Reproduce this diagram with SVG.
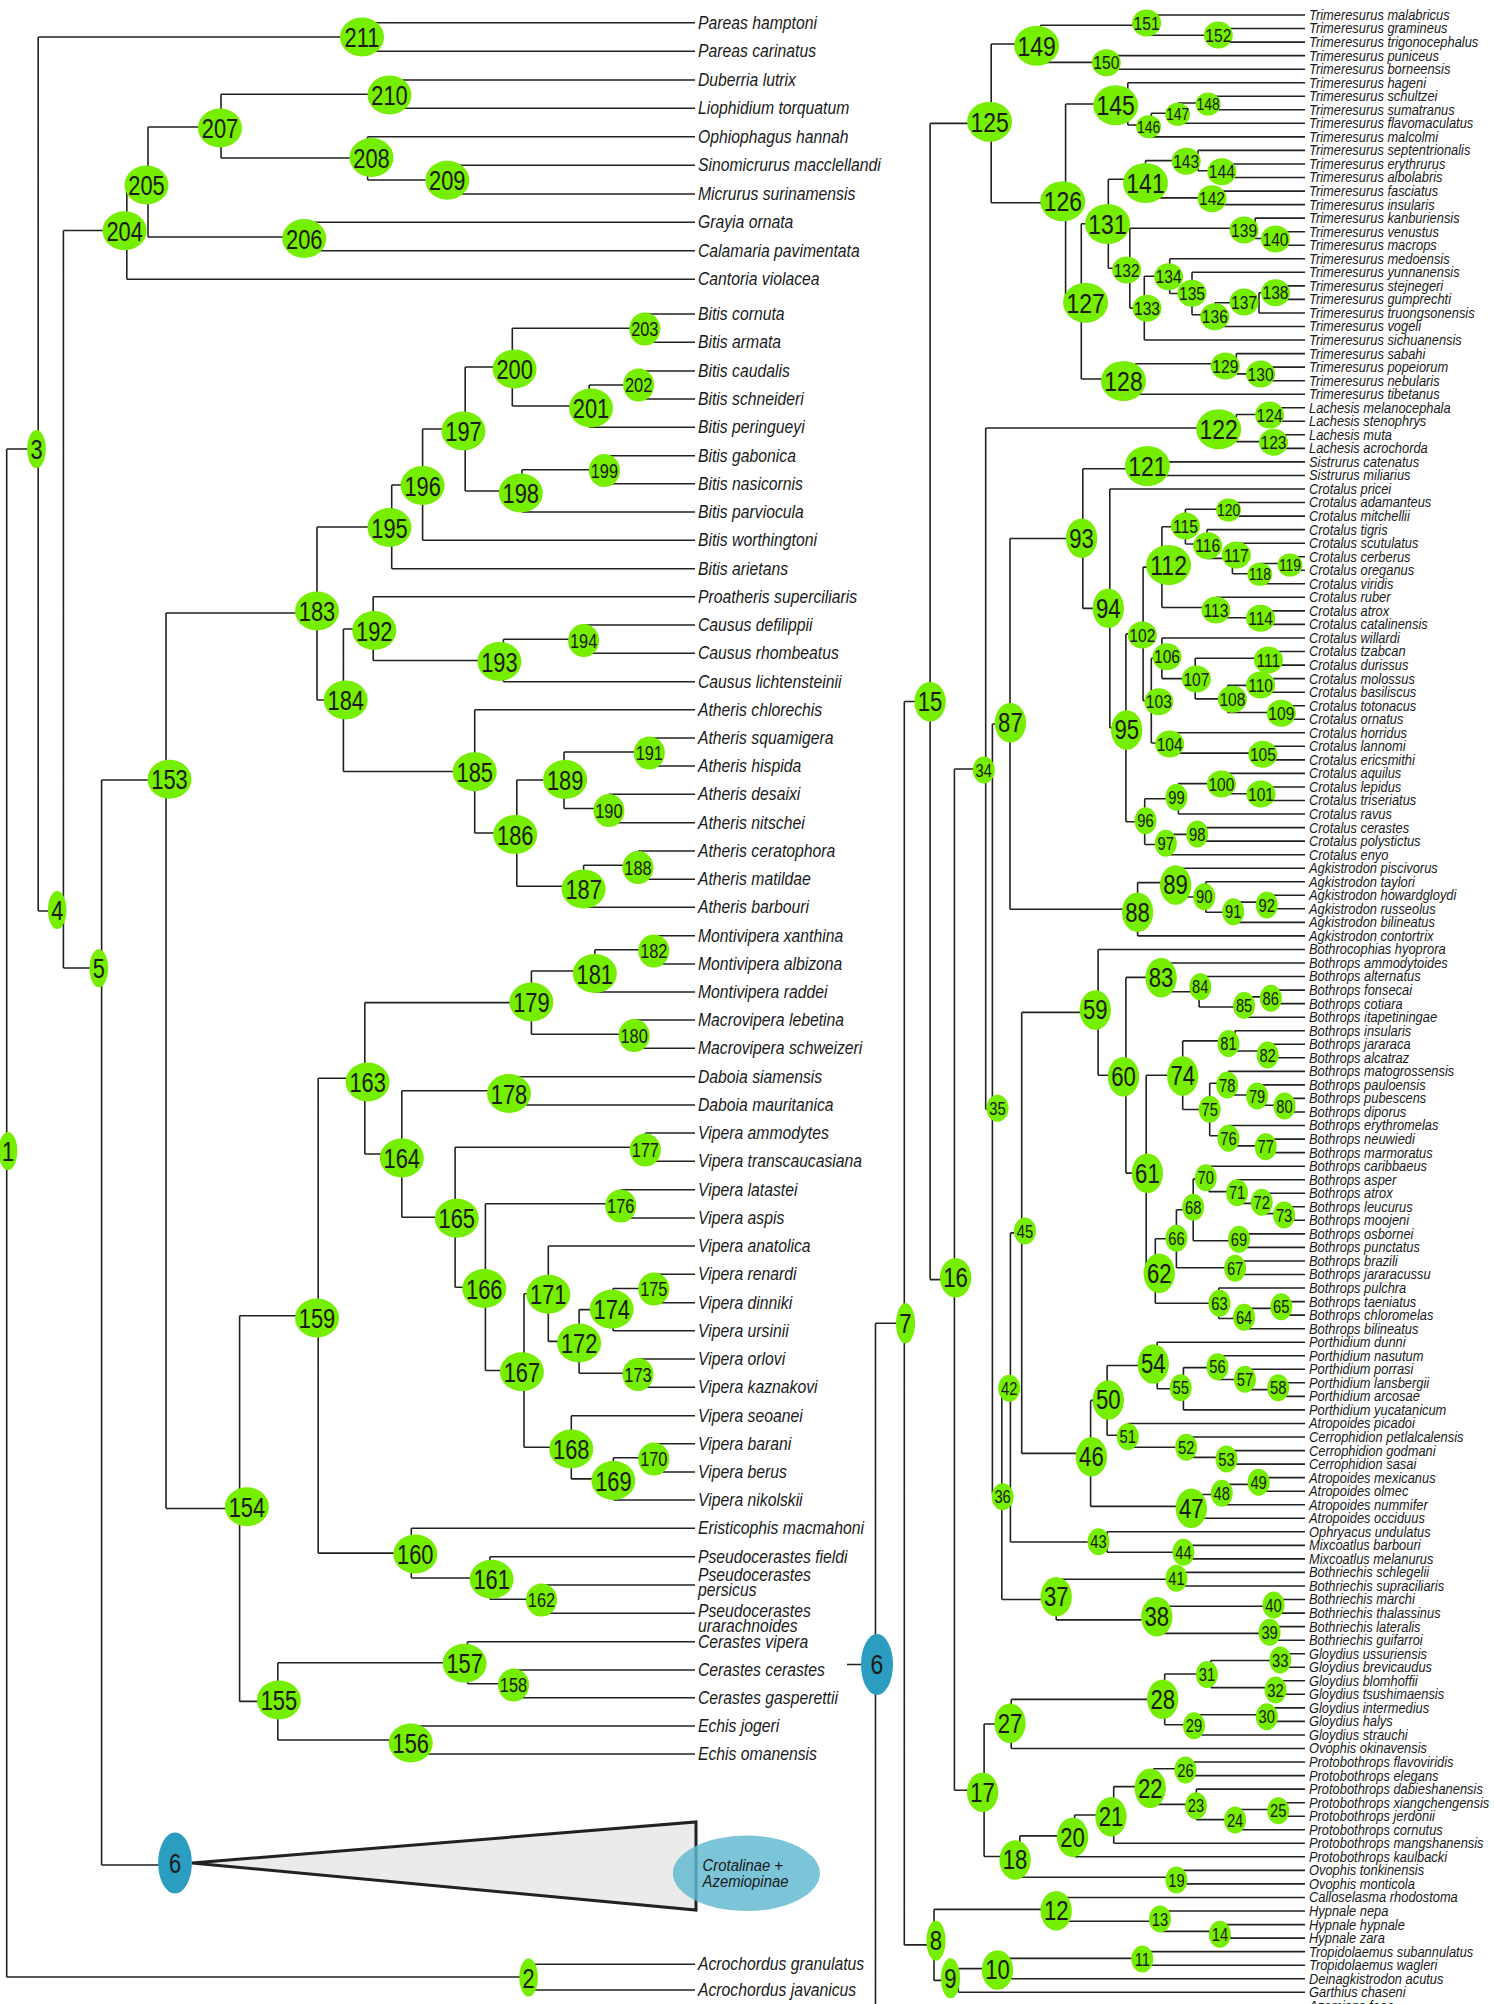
<svg xmlns="http://www.w3.org/2000/svg" width="1494" height="2004" viewBox="0 0 1494 2004">
<style>
.br{fill:none;stroke:#222;stroke-width:1.6}
.nd text{font-family:"Liberation Sans",Arial,sans-serif;text-anchor:middle;dominant-baseline:central;fill:#1a1a1a}
.LB text,.RB text{font-size:28px}
.LS text{font-size:21px}
.LN text{font-size:28px}
.RM text{font-size:19px}
.RS text{font-size:17px}
.R2B text,.R1 text{font-size:27px}
.R2S text{font-size:18px}
.lab{font-family:"Liberation Sans",Arial,sans-serif;font-style:italic;fill:#1a1a1a}
</style>
<defs>
<ellipse id="eLB" rx="28.2" ry="19.5" fill="#76EE00"/>
<ellipse id="eLS" rx="19.9" ry="16.5" fill="#76EE00"/>
<ellipse id="eLN" rx="11.9" ry="19" fill="#76EE00"/>
<ellipse id="eRB" rx="27.4" ry="20" fill="#76EE00"/>
<ellipse id="eRM" rx="17.7" ry="13.5" fill="#76EE00"/>
<ellipse id="eRS" rx="15.2" ry="11.5" fill="#76EE00"/>
<ellipse id="eR2B" rx="19.1" ry="19.7" fill="#76EE00"/>
<ellipse id="eR2S" rx="13.4" ry="13.5" fill="#76EE00"/>
<ellipse id="eR1" rx="11.6" ry="20" fill="#76EE00"/>
</defs>
<rect width="1494" height="2004" fill="#fff"/>
<g id="connectors" class="br">
<path d="M362,22.7V51.3M362,22.7H695M362,51.3H695M389.5,80V108.3M389.5,80H695M389.5,108.3H695M447.3,165.3V194M447.3,165.3H695M447.3,194H695M367.6,136.7V180M367.6,136.7H695M367.6,180H447.3M221,94.3V158M221,94.3H389.5M221,158H367.6M304.2,222.3V250.7M304.2,222.3H695M304.2,250.7H695M148,127V237M148,127H221M148,237H304.2M126.8,183V279.3M126.8,183H148M126.8,279.3H695M645.3,314V342.3M645.3,314H695M645.3,342.3H695M638.6,371V399M638.6,371H695M638.6,399H695M589.2,385V427.3M589.2,385H638.6M589.2,427.3H695M512.3,328.2V406M512.3,328.2H645.3M512.3,406H589.2M604.4,455.7V483.7M604.4,455.7H695M604.4,483.7H695M521.9,469.7V512M521.9,469.7H604.4M521.9,512H695M465.2,367V491M465.2,367H512.3M465.2,491H521.9M422.6,429V540.3M422.6,429H465.2M422.6,540.3H695M391.7,485V568.7M391.7,485H422.6M391.7,568.7H695M583.6,625V653.3M583.6,625H695M583.6,653.3H695M503.4,639.2V681.7M503.4,639.2H583.6M503.4,681.7H695M373.2,596.7V660.5M373.2,596.7H695M373.2,660.5H503.4M649.3,738V766M649.3,738H695M649.3,766H695M608.9,794.3V822.7M608.9,794.3H695M608.9,822.7H695M564,752V808.5M564,752H649.3M564,808.5H608.9M638,851V879.3M638,851H695M638,879.3H695M583.6,865.2V907.3M583.6,865.2H638M583.6,907.3H695M516.8,780V886.3M516.8,780H564M516.8,886.3H583.6M474.7,709.7V833M474.7,709.7H695M474.7,833H516.8M343.4,629V771.5M343.4,629H373.2M343.4,771.5H474.7M317,527V700M317,527H391.7M317,700H343.4M653.8,935.7V964M653.8,935.7H695M653.8,964H695M594.8,949.8V992M594.8,949.8H653.8M594.8,992H695M634.1,1020V1048.3M634.1,1020H695M634.1,1048.3H695M531.4,971V1034.2M531.4,971H594.8M531.4,1034.2H634.1M509,1076.7V1105M509,1076.7H695M509,1105H695M645.3,1133V1161.3M645.3,1133H695M645.3,1161.3H695M620.7,1189.7V1218M620.7,1189.7H695M620.7,1218H695M653.8,1274.3V1302.7M653.8,1274.3H695M653.8,1302.7H695M613,1288.5V1330.7M613,1288.5H653.8M613,1330.7H695M638,1359V1387.3M638,1359H695M638,1387.3H695M579.1,1309.6V1373.2M579.1,1309.6H613M579.1,1373.2H638M548.3,1246V1341.4M548.3,1246H695M548.3,1341.4H579.1M653.8,1443.7V1472M653.8,1443.7H695M653.8,1472H695M613.4,1457.8V1500M613.4,1457.8H653.8M613.4,1500H695M571.3,1415.7V1478.9M571.3,1415.7H695M571.3,1478.9H613.4M524,1293.7V1447.3M524,1293.7H548.3M524,1447.3H571.3M485.4,1203.8V1370.5M485.4,1203.8H620.7M485.4,1370.5H524M455.1,1147.2V1287.2M455.1,1147.2H645.3M455.1,1287.2H485.4M401.8,1090.8V1217.2M401.8,1090.8H509M401.8,1217.2H455.1M364.8,1002.6V1154M364.8,1002.6H531.4M364.8,1154H401.8M541.5,1585V1613.3M541.5,1585H695M541.5,1613.3H695M489.9,1556.7V1599.2M489.9,1556.7H695M489.9,1599.2H541.5M411.3,1528.3V1578M411.3,1528.3H695M411.3,1578H489.9M318.2,1078.3V1553.1M318.2,1078.3H364.8M318.2,1553.1H411.3M513.5,1670V1697.7M513.5,1670H695M513.5,1697.7H695M467.5,1641.7V1683.8M467.5,1641.7H695M467.5,1683.8H513.5M410.8,1726V1754M410.8,1726H695M410.8,1754H695M277.8,1662.8V1740M277.8,1662.8H467.5M277.8,1740H410.8M239.6,1315.7V1701.4M239.6,1315.7H318.2M239.6,1701.4H277.8M166,613V1508.5M166,613H317M166,1508.5H239.6M101.6,780V1865M101.6,780H166M101.6,1865H175M63.4,230.5V968M63.4,230.5H126.8M63.4,968H101.6M38.2,37V911M38.2,37H362M38.2,911H63.4M528.6,1964.3V1990M528.6,1964.3H695M528.6,1990H695M6.7,449V1977M6.7,449H38.2M6.7,1977H528.6"/>
<path d="M1218.3,28.5V42.1M1218.3,28.5H1305M1218.3,42.1H1305M1146.2,15V35.3M1146.2,15H1305M1146.2,35.3H1218.3M1106.3,55.6V69.2M1106.3,55.6H1305M1106.3,69.2H1305M1040.5,25.2V62.4M1040.5,25.2H1146.2M1040.5,62.4H1106.3M1208.1,96.3V109.8M1208.1,96.3H1305M1208.1,109.8H1305M1177.6,103V123.3M1177.6,103H1208.1M1177.6,123.3H1305M1151.3,113.2V136.9M1151.3,113.2H1177.6M1151.3,136.9H1305M1127.8,82.7V125M1127.8,82.7H1305M1127.8,125H1151.3M1221.8,164V177.5M1221.8,164H1305M1221.8,177.5H1305M1197.9,150.4V170.8M1197.9,150.4H1305M1197.9,170.8H1221.8M1212,191.1V204.6M1212,191.1H1305M1212,204.6H1305M1145.5,160.6V197.9M1145.5,160.6H1197.9M1145.5,197.9H1212M1275.5,231.7V245.2M1275.5,231.7H1305M1275.5,245.2H1305M1255.1,218.1V238.5M1255.1,218.1H1305M1255.1,238.5H1275.5M1275.5,285.9V299.4M1275.5,285.9H1305M1275.5,299.4H1305M1259,292.7V313M1259,292.7H1275.5M1259,313H1305M1214.8,302.8V326.5M1214.8,302.8H1259M1214.8,326.5H1305M1192,272.3V314.7M1192,272.3H1305M1192,314.7H1214.8M1169.7,258.8V293.5M1169.7,258.8H1305M1169.7,293.5H1192M1144.3,276.2V340M1144.3,276.2H1169.7M1144.3,340H1305M1129.8,228.3V308.1M1129.8,228.3H1255.1M1129.8,308.1H1144.3M1108.3,179.2V268.2M1108.3,179.2H1145.5M1108.3,268.2H1129.8M1260.6,367.1V380.7M1260.6,367.1H1305M1260.6,380.7H1305M1236.3,353.6V373.9M1236.3,353.6H1305M1236.3,373.9H1260.6M1135.3,363.8V394.2M1135.3,363.8H1236.3M1135.3,394.2H1305M1081.3,223.7V379M1081.3,223.7H1108.3M1081.3,379H1135.3M1065.6,104V301.4M1065.6,104H1127.8M1065.6,301.4H1081.3M991.2,44V202.7M991.2,44H1040.5M991.2,202.7H1065.6M1269.6,407.7V421.3M1269.6,407.7H1305M1269.6,421.3H1305M1273.5,434.8V448.4M1273.5,434.8H1305M1273.5,448.4H1305M1236.3,414.5V441.6M1236.3,414.5H1269.6M1236.3,441.6H1273.5M1147.4,461.9V475.5M1147.4,461.9H1305M1147.4,475.5H1305M1228.5,502.5V516.1M1228.5,502.5H1305M1228.5,516.1H1305M1290,556.7V570.3M1290,556.7H1305M1290,570.3H1305M1259.8,563.5V583.8M1259.8,563.5H1290M1259.8,583.8H1305M1232.4,543.2V573.7M1232.4,543.2H1305M1232.4,573.7H1259.8M1207,529.6V558.4M1207,529.6H1305M1207,558.4H1232.4M1185.4,509.3V544M1185.4,509.3H1228.5M1185.4,544H1207M1260.6,610.9V624.4M1260.6,610.9H1305M1260.6,624.4H1305M1215.9,597.3V617.7M1215.9,597.3H1305M1215.9,617.7H1260.6M1161.9,526.7V607.5M1161.9,526.7H1185.4M1161.9,607.5H1215.9M1268.4,651.5V665.1M1268.4,651.5H1305M1268.4,665.1H1305M1260.6,678.6V692.2M1260.6,678.6H1305M1260.6,692.2H1305M1281.3,705.7V719.2M1281.3,705.7H1305M1281.3,719.2H1305M1227.7,685.4V712.5M1227.7,685.4H1260.6M1227.7,712.5H1281.3M1195.2,658.3V698.9M1195.2,658.3H1268.4M1195.2,698.9H1227.7M1161.9,638V678.6M1161.9,638H1305M1161.9,678.6H1195.2M1262.9,746.3V759.9M1262.9,746.3H1305M1262.9,759.9H1305M1170,732.8V753.1M1170,732.8H1305M1170,753.1H1262.9M1151.3,658.3V743M1151.3,658.3H1161.9M1151.3,743H1170M1143.1,567.1V700.7M1143.1,567.1H1161.9M1143.1,700.7H1151.3M1261,787V800.5M1261,787H1305M1261,800.5H1305M1221.4,773.4V793.8M1221.4,773.4H1305M1221.4,793.8H1261M1178.4,783.6V814M1178.4,783.6H1221.4M1178.4,814H1305M1197.2,827.6V841.1M1197.2,827.6H1305M1197.2,841.1H1305M1165.8,834.4V854.7M1165.8,834.4H1197.2M1165.8,854.7H1305M1144.7,798.8V844.5M1144.7,798.8H1178.4M1144.7,844.5H1165.8M1125.9,633.9V821.7M1125.9,633.9H1143.1M1125.9,821.7H1144.7M1109.8,489V727.8M1109.8,489H1305M1109.8,727.8H1125.9M1082.8,468.7V608.4M1082.8,468.7H1147.4M1082.8,608.4H1109.8M1266.8,895.3V908.8M1266.8,895.3H1305M1266.8,908.8H1305M1238,902.1V922.4M1238,902.1H1266.8M1238,922.4H1305M1205.8,881.8V912.2M1205.8,881.8H1305M1205.8,912.2H1238M1175.6,868.2V897M1175.6,868.2H1305M1175.6,897H1205.8M1137.6,882.6V935.9M1137.6,882.6H1175.6M1137.6,935.9H1305M1010,538.5V909.3M1010,538.5H1082.8M1010,909.3H1137.6M1270.8,990.1V1003.6M1270.8,990.1H1305M1270.8,1003.6H1305M1244.1,996.9V1017.2M1244.1,996.9H1270.8M1244.1,1017.2H1305M1199.1,976.5V1007M1199.1,976.5H1305M1199.1,1007H1244.1M1161.1,963V991.8M1161.1,963H1305M1161.1,991.8H1199.1M1267.6,1044.3V1057.8M1267.6,1044.3H1305M1267.6,1057.8H1305M1235,1030.7V1051M1235,1030.7H1305M1235,1051H1267.6M1284.5,1098.4V1112M1284.5,1098.4H1305M1284.5,1112H1305M1257.1,1084.9V1105.2M1257.1,1084.9H1305M1257.1,1105.2H1284.5M1228,1071.4V1095M1228,1071.4H1305M1228,1095H1257.1M1265.7,1139.1V1152.6M1265.7,1139.1H1305M1265.7,1152.6H1305M1228.5,1125.5V1145.9M1228.5,1125.5H1305M1228.5,1145.9H1265.7M1209.7,1083.2V1135.7M1209.7,1083.2H1228M1209.7,1135.7H1228.5M1182.7,1040.9V1109.5M1182.7,1040.9H1235M1182.7,1109.5H1209.7M1284.1,1206.8V1220.3M1284.1,1206.8H1305M1284.1,1220.3H1305M1262,1193.2V1213.6M1262,1193.2H1305M1262,1213.6H1284.1M1237.1,1179.7V1203.4M1237.1,1179.7H1305M1237.1,1203.4H1262M1208.9,1166.2V1191.6M1208.9,1166.2H1305M1208.9,1191.6H1237.1M1239,1233.9V1247.4M1239,1233.9H1305M1239,1247.4H1305M1193.2,1178.9V1240.7M1193.2,1178.9H1208.9M1193.2,1240.7H1239M1235.1,1261V1274.5M1235.1,1261H1305M1235.1,1274.5H1305M1176.4,1209.8V1267.8M1176.4,1209.8H1193.2M1176.4,1267.8H1235.1M1281.3,1301.6V1315.1M1281.3,1301.6H1305M1281.3,1315.1H1305M1244.1,1308.4V1328.7M1244.1,1308.4H1281.3M1244.1,1328.7H1305M1218.7,1288V1318.5M1218.7,1288H1305M1218.7,1318.5H1244.1M1155.3,1238.8V1303.3M1155.3,1238.8H1176.4M1155.3,1303.3H1218.7M1146.2,1075.2V1271M1146.2,1075.2H1182.7M1146.2,1271H1155.3M1125.9,977.4V1173.1M1125.9,977.4H1161.1M1125.9,1173.1H1146.2M1098.1,949.5V1075.3M1098.1,949.5H1305M1098.1,1075.3H1125.9M1278.2,1382.8V1396.4M1278.2,1382.8H1305M1278.2,1396.4H1305M1244.9,1369.3V1389.6M1244.9,1369.3H1305M1244.9,1389.6H1278.2M1217.5,1355.8V1379.5M1217.5,1355.8H1305M1217.5,1379.5H1244.9M1183.4,1367.6V1409.9M1183.4,1367.6H1217.5M1183.4,1409.9H1305M1157.2,1342.2V1388.8M1157.2,1342.2H1305M1157.2,1388.8H1183.4M1226.5,1450.6V1464.1M1226.5,1450.6H1305M1226.5,1464.1H1305M1190,1437V1457.4M1190,1437H1305M1190,1457.4H1226.5M1127.8,1423.5V1447.2M1127.8,1423.5H1305M1127.8,1447.2H1190M1107.1,1365.5V1435.3M1107.1,1365.5H1157.2M1107.1,1435.3H1127.8M1258.6,1477.6V1491.2M1258.6,1477.6H1305M1258.6,1491.2H1305M1221.8,1484.4V1504.7M1221.8,1484.4H1258.6M1221.8,1504.7H1305M1191.3,1494.5V1518.3M1191.3,1494.5H1221.8M1191.3,1518.3H1305M1090.6,1400.4V1506.4M1090.6,1400.4H1107.1M1090.6,1506.4H1191.3M1021.7,1012.4V1453.4M1021.7,1012.4H1098.1M1021.7,1453.4H1090.6M1183.4,1545.4V1558.9M1183.4,1545.4H1305M1183.4,1558.9H1305M1107,1531.8V1552.2M1107,1531.8H1305M1107,1552.2H1183.4M1010.4,1232.9V1542M1010.4,1232.9H1021.7M1010.4,1542H1107M1176.4,1572.4V1586M1176.4,1572.4H1305M1176.4,1586H1305M1273.5,1599.5V1613.1M1273.5,1599.5H1305M1273.5,1613.1H1305M1269.6,1626.6V1640.2M1269.6,1626.6H1305M1269.6,1640.2H1305M1160,1606.3V1633.4M1160,1606.3H1273.5M1160,1633.4H1269.6M1056.2,1579.2V1619.9M1056.2,1579.2H1176.4M1056.2,1619.9H1160M1001.8,1387.5V1599.5M1001.8,1387.5H1010.4M1001.8,1599.5H1056.2M992.4,724V1493.5M992.4,724H1010M992.4,1493.5H1001.8M985.7,428V1109.2M985.7,428H1236.3M985.7,1109.2H992.4M1280.2,1653.7V1667.2M1280.2,1653.7H1305M1280.2,1667.2H1305M1275.5,1680.8V1694.3M1275.5,1680.8H1305M1275.5,1694.3H1305M1210.8,1660.5V1687.6M1210.8,1660.5H1280.2M1210.8,1687.6H1275.5M1266.8,1707.9V1721.4M1266.8,1707.9H1305M1266.8,1721.4H1305M1198,1714.7V1735M1198,1714.7H1266.8M1198,1735H1305M1164.7,1674V1724.8M1164.7,1674H1210.8M1164.7,1724.8H1198M1011.2,1699.4V1748.5M1011.2,1699.4H1164.7M1011.2,1748.5H1305M1185.4,1762V1775.6M1185.4,1762H1305M1185.4,1775.6H1305M1278.2,1802.7V1816.2M1278.2,1802.7H1305M1278.2,1816.2H1305M1240,1809.5V1829.8M1240,1809.5H1278.2M1240,1829.8H1305M1196.4,1789.1V1819.6M1196.4,1789.1H1305M1196.4,1819.6H1240M1153.3,1768.8V1804.4M1153.3,1768.8H1185.4M1153.3,1804.4H1196.4M1113.7,1786.6V1843.3M1113.7,1786.6H1153.3M1113.7,1843.3H1305M1074.6,1815V1856.8M1074.6,1815H1113.7M1074.6,1856.8H1305M1176.4,1870.4V1883.9M1176.4,1870.4H1305M1176.4,1883.9H1305M1019.8,1835.9V1877.2M1019.8,1835.9H1074.6M1019.8,1877.2H1176.4M984.1,1724V1856.5M984.1,1724H1011.2M984.1,1856.5H1019.8M954.4,769V1790.2M954.4,769H985.7M954.4,1790.2H984.1M930.1,123.4V1279.6M930.1,123.4H991.2M930.1,1279.6H954.4M1219.9,1924.6V1938.1M1219.9,1924.6H1305M1219.9,1938.1H1305M1161.9,1911V1931.4M1161.9,1911H1305M1161.9,1931.4H1219.9M1060,1897.5V1921.2M1060,1897.5H1305M1060,1921.2H1161.9M1142.3,1951.6V1965.2M1142.3,1951.6H1305M1142.3,1965.2H1305M1000,1958.4V1978.7M1000,1958.4H1142.3M1000,1978.7H1305M958.3,1968.6V1992.3M958.3,1968.6H1000M958.3,1992.3H1305M934,1909.4V1980.4M934,1909.4H1060M934,1980.4H958.3M904.3,701.5V1944.9M904.3,701.5H930.1M904.3,1944.9H934M875.5,1323.2V2010M875.5,1323.2H904.3M875.5,2005.8H1305M847,1664.5H877"/>
</g>
<g id="collapsed-clade">
<polygon points="192,1863 696,1822 696,1910" fill="#EBEBEB" stroke="#222" stroke-width="3" stroke-linejoin="miter"/>
<ellipse cx="746.4" cy="1873.3" rx="73.5" ry="37.7" fill="#5FB7D0" fill-opacity="0.82"/>
<g class="lab" font-size="16.5" transform="translate(702.6,0) scale(.9,1)"><text x="0" y="1871">Crotalinae +</text><text x="0" y="1887.5">Azemiopinae</text></g>
</g>
<g id="labels-left" class="lab" font-size="17.5" transform="translate(698,0) scale(.9,1)">
<text y="28.7">Pareas hamptoni</text><text y="57.3">Pareas carinatus</text><text y="86">Duberria lutrix</text><text y="114.3">Liophidium torquatum</text><text y="142.7">Ophiophagus hannah</text><text y="171.3">Sinomicrurus macclellandi</text><text y="200">Micrurus surinamensis</text><text y="228.3">Grayia ornata</text><text y="256.7">Calamaria pavimentata</text><text y="285.3">Cantoria violacea</text><text y="320">Bitis cornuta</text><text y="348.3">Bitis armata</text><text y="377">Bitis caudalis</text><text y="405">Bitis schneideri</text><text y="433.3">Bitis peringueyi</text><text y="461.7">Bitis gabonica</text><text y="489.7">Bitis nasicornis</text><text y="518">Bitis parviocula</text><text y="546.3">Bitis worthingtoni</text><text y="574.7">Bitis arietans</text><text y="602.7">Proatheris superciliaris</text><text y="631">Causus defilippii</text><text y="659.3">Causus rhombeatus</text><text y="687.7">Causus lichtensteinii</text><text y="715.7">Atheris chlorechis</text><text y="744">Atheris squamigera</text><text y="772">Atheris hispida</text><text y="800.3">Atheris desaixi</text><text y="828.7">Atheris nitschei</text><text y="857">Atheris ceratophora</text><text y="885.3">Atheris matildae</text><text y="913.3">Atheris barbouri</text><text y="941.7">Montivipera xanthina</text><text y="970">Montivipera albizona</text><text y="998">Montivipera raddei</text><text y="1026">Macrovipera lebetina</text><text y="1054.3">Macrovipera schweizeri</text><text y="1082.7">Daboia siamensis</text><text y="1111">Daboia mauritanica</text><text y="1139">Vipera ammodytes</text><text y="1167.3">Vipera transcaucasiana</text><text y="1195.7">Vipera latastei</text><text y="1224">Vipera aspis</text><text y="1252">Vipera anatolica</text><text y="1280.3">Vipera renardi</text><text y="1308.7">Vipera dinniki</text><text y="1336.7">Vipera ursinii</text><text y="1365">Vipera orlovi</text><text y="1393.3">Vipera kaznakovi</text><text y="1421.7">Vipera seoanei</text><text y="1449.7">Vipera barani</text><text y="1478">Vipera berus</text><text y="1506">Vipera nikolskii</text><text y="1534.3">Eristicophis macmahoni</text><text y="1562.7">Pseudocerastes fieldi</text><text y="1581">Pseudocerastes</text><text y="1596.5">persicus</text><text y="1617">Pseudocerastes</text><text y="1632.5">urarachnoides</text><text y="1647.7">Cerastes vipera</text><text y="1676">Cerastes cerastes</text><text y="1703.7">Cerastes gasperettii</text><text y="1732">Echis jogeri</text><text y="1760">Echis omanensis</text><text y="1970.3">Acrochordus granulatus</text><text y="1996">Acrochordus javanicus</text>
</g>
<g id="labels-right" class="lab" font-size="14" transform="translate(1309,0) scale(.92,1)">
<text y="20">Trimeresurus malabricus</text><text y="33.5">Trimeresurus gramineus</text><text y="47.1">Trimeresurus trigonocephalus</text><text y="60.6">Trimeresurus puniceus</text><text y="74.2">Trimeresurus borneensis</text><text y="87.7">Trimeresurus hageni</text><text y="101.3">Trimeresurus schultzei</text><text y="114.8">Trimeresurus sumatranus</text><text y="128.3">Trimeresurus flavomaculatus</text><text y="141.9">Trimeresurus malcolmi</text><text y="155.4">Trimeresurus septentrionalis</text><text y="169">Trimeresurus erythrurus</text><text y="182.5">Trimeresurus albolabris</text><text y="196.1">Trimeresurus fasciatus</text><text y="209.6">Trimeresurus insularis</text><text y="223.1">Trimeresurus kanburiensis</text><text y="236.7">Trimeresurus venustus</text><text y="250.2">Trimeresurus macrops</text><text y="263.8">Trimeresurus medoensis</text><text y="277.3">Trimeresurus yunnanensis</text><text y="290.9">Trimeresurus stejnegeri</text><text y="304.4">Trimeresurus gumprechti</text><text y="318">Trimeresurus truongsonensis</text><text y="331.5">Trimeresurus vogeli</text><text y="345">Trimeresurus sichuanensis</text><text y="358.6">Trimeresurus sabahi</text><text y="372.1">Trimeresurus popeiorum</text><text y="385.7">Trimeresurus nebularis</text><text y="399.2">Trimeresurus tibetanus</text><text y="412.7">Lachesis melanocephala</text><text y="426.3">Lachesis stenophrys</text><text y="439.8">Lachesis muta</text><text y="453.4">Lachesis acrochorda</text><text y="466.9">Sistrurus catenatus</text><text y="480.5">Sistrurus miliarius</text><text y="494">Crotalus pricei</text><text y="507.5">Crotalus adamanteus</text><text y="521.1">Crotalus mitchellii</text><text y="534.6">Crotalus tigris</text><text y="548.2">Crotalus scutulatus</text><text y="561.7">Crotalus cerberus</text><text y="575.3">Crotalus oreganus</text><text y="588.8">Crotalus viridis</text><text y="602.3">Crotalus ruber</text><text y="615.9">Crotalus atrox</text><text y="629.4">Crotalus catalinensis</text><text y="643">Crotalus willardi</text><text y="656.5">Crotalus tzabcan</text><text y="670.1">Crotalus durissus</text><text y="683.6">Crotalus molossus</text><text y="697.2">Crotalus basiliscus</text><text y="710.7">Crotalus totonacus</text><text y="724.2">Crotalus ornatus</text><text y="737.8">Crotalus horridus</text><text y="751.3">Crotalus lannomi</text><text y="764.9">Crotalus ericsmithi</text><text y="778.4">Crotalus aquilus</text><text y="792">Crotalus lepidus</text><text y="805.5">Crotalus triseriatus</text><text y="819">Crotalus ravus</text><text y="832.6">Crotalus cerastes</text><text y="846.1">Crotalus polystictus</text><text y="859.7">Crotalus enyo</text><text y="873.2">Agkistrodon piscivorus</text><text y="886.8">Agkistrodon taylori</text><text y="900.3">Agkistrodon howardgloydi</text><text y="913.8">Agkistrodon russeolus</text><text y="927.4">Agkistrodon bilineatus</text><text y="940.9">Agkistrodon contortrix</text><text y="954.5">Bothrocophias hyoprora</text><text y="968">Bothrops ammodytoides</text><text y="981.5">Bothrops alternatus</text><text y="995.1">Bothrops fonsecai</text><text y="1008.6">Bothrops cotiara</text><text y="1022.2">Bothrops itapetiningae</text><text y="1035.7">Bothrops insularis</text><text y="1049.3">Bothrops jararaca</text><text y="1062.8">Bothrops alcatraz</text><text y="1076.4">Bothrops matogrossensis</text><text y="1089.9">Bothrops pauloensis</text><text y="1103.4">Bothrops pubescens</text><text y="1117">Bothrops diporus</text><text y="1130.5">Bothrops erythromelas</text><text y="1144.1">Bothrops neuwiedi</text><text y="1157.6">Bothrops marmoratus</text><text y="1171.2">Bothrops caribbaeus</text><text y="1184.7">Bothrops asper</text><text y="1198.2">Bothrops atrox</text><text y="1211.8">Bothrops leucurus</text><text y="1225.3">Bothrops moojeni</text><text y="1238.9">Bothrops osbornei</text><text y="1252.4">Bothrops punctatus</text><text y="1266">Bothrops brazili</text><text y="1279.5">Bothrops jararacussu</text><text y="1293">Bothrops pulchra</text><text y="1306.6">Bothrops taeniatus</text><text y="1320.1">Bothrops chloromelas</text><text y="1333.7">Bothrops bilineatus</text><text y="1347.2">Porthidium dunni</text><text y="1360.8">Porthidium nasutum</text><text y="1374.3">Porthidium porrasi</text><text y="1387.8">Porthidium lansbergii</text><text y="1401.4">Porthidium arcosae</text><text y="1414.9">Porthidium yucatanicum</text><text y="1428.5">Atropoides picadoi</text><text y="1442">Cerrophidion petlalcalensis</text><text y="1455.6">Cerrophidion godmani</text><text y="1469.1">Cerrophidion sasai</text><text y="1482.6">Atropoides mexicanus</text><text y="1496.2">Atropoides olmec</text><text y="1509.7">Atropoides nummifer</text><text y="1523.3">Atropoides occiduus</text><text y="1536.8">Ophryacus undulatus</text><text y="1550.4">Mixcoatlus barbouri</text><text y="1563.9">Mixcoatlus melanurus</text><text y="1577.4">Bothriechis schlegelii</text><text y="1591">Bothriechis supraciliaris</text><text y="1604.5">Bothriechis marchi</text><text y="1618.1">Bothriechis thalassinus</text><text y="1631.6">Bothriechis lateralis</text><text y="1645.2">Bothriechis guifarroi</text><text y="1658.7">Gloydius ussuriensis</text><text y="1672.2">Gloydius brevicaudus</text><text y="1685.8">Gloydius blomhoffii</text><text y="1699.3">Gloydius tsushimaensis</text><text y="1712.9">Gloydius intermedius</text><text y="1726.4">Gloydius halys</text><text y="1740">Gloydius strauchi</text><text y="1753.5">Ovophis okinavensis</text><text y="1767">Protobothrops flavoviridis</text><text y="1780.6">Protobothrops elegans</text><text y="1794.1">Protobothrops dabieshanensis</text><text y="1807.7">Protobothrops xiangchengensis</text><text y="1821.2">Protobothrops jerdonii</text><text y="1834.8">Protobothrops cornutus</text><text y="1848.3">Protobothrops mangshanensis</text><text y="1861.8">Protobothrops kaulbacki</text><text y="1875.4">Ovophis tonkinensis</text><text y="1888.9">Ovophis monticola</text><text y="1902.5">Calloselasma rhodostoma</text><text y="1916">Hypnale nepa</text><text y="1929.6">Hypnale hypnale</text><text y="1943.1">Hypnale zara</text><text y="1956.6">Tropidolaemus subannulatus</text><text y="1970.2">Tropidolaemus wagleri</text><text y="1983.7">Deinagkistrodon acutus</text><text y="1997.3">Garthius chaseni</text><text y="2010.8">Azemiops feae</text>
</g>
<g id="nodes-left">
<g id="node-211" class="nd LB" transform="translate(362,37) scale(.78,1)"><use href="#eLB"/><text>211</text></g>
<g id="node-210" class="nd LB" transform="translate(389.5,95) scale(.78,1)"><use href="#eLB"/><text>210</text></g>
<g id="node-209" class="nd LB" transform="translate(447.3,180.3) scale(.78,1)"><use href="#eLB"/><text>209</text></g>
<g id="node-208" class="nd LB" transform="translate(371.5,157.5) scale(.78,1)"><use href="#eLB"/><text>208</text></g>
<g id="node-207" class="nd LB" transform="translate(220,128) scale(.78,1)"><use href="#eLB"/><text>207</text></g>
<g id="node-206" class="nd LB" transform="translate(304.2,238.5) scale(.78,1)"><use href="#eLB"/><text>206</text></g>
<g id="node-205" class="nd LB" transform="translate(146.5,185) scale(.78,1)"><use href="#eLB"/><text>205</text></g>
<g id="node-204" class="nd LB" transform="translate(124.6,230.7) scale(.78,1)"><use href="#eLB"/><text>204</text></g>
<g id="node-203" class="nd LS" transform="translate(644.8,329) scale(.78,1)"><use href="#eLS"/><text>203</text></g>
<g id="node-202" class="nd LS" transform="translate(638.6,385) scale(.78,1)"><use href="#eLS"/><text>202</text></g>
<g id="node-201" class="nd LB" transform="translate(591,408) scale(.78,1)"><use href="#eLB"/><text>201</text></g>
<g id="node-200" class="nd LB" transform="translate(514.6,369) scale(.78,1)"><use href="#eLB"/><text>200</text></g>
<g id="node-199" class="nd LS" transform="translate(604.4,470.5) scale(.78,1)"><use href="#eLS"/><text>199</text></g>
<g id="node-198" class="nd LB" transform="translate(520.8,493) scale(.78,1)"><use href="#eLB"/><text>198</text></g>
<g id="node-197" class="nd LB" transform="translate(463.5,431) scale(.78,1)"><use href="#eLB"/><text>197</text></g>
<g id="node-196" class="nd LB" transform="translate(422.6,485.5) scale(.78,1)"><use href="#eLB"/><text>196</text></g>
<g id="node-195" class="nd LB" transform="translate(389.5,527.5) scale(.78,1)"><use href="#eLB"/><text>195</text></g>
<g id="node-194" class="nd LS" transform="translate(583.6,640.5) scale(.78,1)"><use href="#eLS"/><text>194</text></g>
<g id="node-193" class="nd LB" transform="translate(499.4,661.5) scale(.78,1)"><use href="#eLB"/><text>193</text></g>
<g id="node-192" class="nd LB" transform="translate(374.3,630.5) scale(.78,1)"><use href="#eLB"/><text>192</text></g>
<g id="node-191" class="nd LS" transform="translate(649.3,753) scale(.78,1)"><use href="#eLS"/><text>191</text></g>
<g id="node-190" class="nd LS" transform="translate(608.9,810.5) scale(.78,1)"><use href="#eLS"/><text>190</text></g>
<g id="node-189" class="nd LB" transform="translate(565.1,779.5) scale(.78,1)"><use href="#eLB"/><text>189</text></g>
<g id="node-188" class="nd LS" transform="translate(638,867.5) scale(.78,1)"><use href="#eLS"/><text>188</text></g>
<g id="node-187" class="nd LB" transform="translate(583.6,889) scale(.78,1)"><use href="#eLB"/><text>187</text></g>
<g id="node-186" class="nd LB" transform="translate(515.2,834.5) scale(.78,1)"><use href="#eLB"/><text>186</text></g>
<g id="node-185" class="nd LB" transform="translate(474.7,771.7) scale(.78,1)"><use href="#eLB"/><text>185</text></g>
<g id="node-184" class="nd LB" transform="translate(345.7,700) scale(.78,1)"><use href="#eLB"/><text>184</text></g>
<g id="node-183" class="nd LB" transform="translate(317,611) scale(.78,1)"><use href="#eLB"/><text>183</text></g>
<g id="node-182" class="nd LS" transform="translate(653.8,951) scale(.78,1)"><use href="#eLS"/><text>182</text></g>
<g id="node-181" class="nd LB" transform="translate(594.8,973.5) scale(.78,1)"><use href="#eLB"/><text>181</text></g>
<g id="node-180" class="nd LS" transform="translate(634.1,1035.5) scale(.78,1)"><use href="#eLS"/><text>180</text></g>
<g id="node-179" class="nd LB" transform="translate(531.4,1002) scale(.78,1)"><use href="#eLB"/><text>179</text></g>
<g id="node-178" class="nd LB" transform="translate(509,1093.5) scale(.78,1)"><use href="#eLB"/><text>178</text></g>
<g id="node-177" class="nd LS" transform="translate(645.3,1150) scale(.78,1)"><use href="#eLS"/><text>177</text></g>
<g id="node-176" class="nd LS" transform="translate(620.7,1206) scale(.78,1)"><use href="#eLS"/><text>176</text></g>
<g id="node-175" class="nd LS" transform="translate(653.8,1289) scale(.78,1)"><use href="#eLS"/><text>175</text></g>
<g id="node-174" class="nd LB" transform="translate(611.7,1309.3) scale(.78,1)"><use href="#eLB"/><text>174</text></g>
<g id="node-173" class="nd LS" transform="translate(638,1374.5) scale(.78,1)"><use href="#eLS"/><text>173</text></g>
<g id="node-172" class="nd LB" transform="translate(579.1,1343) scale(.78,1)"><use href="#eLB"/><text>172</text></g>
<g id="node-171" class="nd LB" transform="translate(548.3,1294.3) scale(.78,1)"><use href="#eLB"/><text>171</text></g>
<g id="node-170" class="nd LS" transform="translate(653.8,1459) scale(.78,1)"><use href="#eLS"/><text>170</text></g>
<g id="node-169" class="nd LB" transform="translate(613.4,1480.5) scale(.78,1)"><use href="#eLB"/><text>169</text></g>
<g id="node-168" class="nd LB" transform="translate(571.3,1449) scale(.78,1)"><use href="#eLB"/><text>168</text></g>
<g id="node-167" class="nd LB" transform="translate(521.9,1371.7) scale(.78,1)"><use href="#eLB"/><text>167</text></g>
<g id="node-166" class="nd LB" transform="translate(484.3,1288.5) scale(.78,1)"><use href="#eLB"/><text>166</text></g>
<g id="node-165" class="nd LB" transform="translate(456.8,1218.3) scale(.78,1)"><use href="#eLB"/><text>165</text></g>
<g id="node-164" class="nd LB" transform="translate(401.8,1158) scale(.78,1)"><use href="#eLB"/><text>164</text></g>
<g id="node-163" class="nd LB" transform="translate(367.6,1082) scale(.78,1)"><use href="#eLB"/><text>163</text></g>
<g id="node-162" class="nd LS" transform="translate(541.5,1600) scale(.78,1)"><use href="#eLS"/><text>162</text></g>
<g id="node-161" class="nd LB" transform="translate(491.6,1579.3) scale(.78,1)"><use href="#eLB"/><text>161</text></g>
<g id="node-160" class="nd LB" transform="translate(415.3,1554) scale(.78,1)"><use href="#eLB"/><text>160</text></g>
<g id="node-159" class="nd LB" transform="translate(317,1318) scale(.78,1)"><use href="#eLB"/><text>159</text></g>
<g id="node-158" class="nd LS" transform="translate(513.5,1685) scale(.78,1)"><use href="#eLS"/><text>158</text></g>
<g id="node-157" class="nd LB" transform="translate(464.6,1663.3) scale(.78,1)"><use href="#eLB"/><text>157</text></g>
<g id="node-156" class="nd LB" transform="translate(410.8,1743) scale(.78,1)"><use href="#eLB"/><text>156</text></g>
<g id="node-155" class="nd LB" transform="translate(278.9,1700) scale(.78,1)"><use href="#eLB"/><text>155</text></g>
<g id="node-154" class="nd LB" transform="translate(246.9,1506.7) scale(.78,1)"><use href="#eLB"/><text>154</text></g>
<g id="node-153" class="nd LB" transform="translate(169.5,779.3) scale(.78,1)"><use href="#eLB"/><text>153</text></g>
<g id="node-5" class="nd LN" transform="translate(98.8,968.3) scale(.78,1)"><use href="#eLN"/><text>5</text></g>
<g id="node-4" class="nd LN" transform="translate(57.2,910) scale(.78,1)"><use href="#eLN"/><text>4</text></g>
<g id="node-3" class="nd LN" transform="translate(36.5,449) scale(.78,1)"><use href="#eLN"/><text>3</text></g>
<g id="node-2" class="nd LN" transform="translate(528.6,1977.5) scale(.78,1)"><use href="#eLN"/><text>2</text></g>
<g id="node-1" class="nd LN" transform="translate(8,1151) scale(.78,1)"><use href="#eLN"/><text>1</text></g>
<g id="node-6-left" class="nd LB" transform="translate(175,1863) scale(.78,1)"><ellipse rx="21.6" ry="30.5" fill="#2A9DC0"/><text>6</text></g>
</g>
<g id="nodes-right">
<g id="node-6-right" class="nd RB" transform="translate(877,1664.5) scale(.82,1)"><ellipse rx="19.5" ry="30.5" fill="#2A9DC0"/><text>6</text></g>
<g id="node-125" class="nd RB" transform="translate(989.6,121.7) scale(.82,1)"><use href="#eRB"/><text>125</text></g>
<g id="node-149" class="nd RB" transform="translate(1036.6,45.7) scale(.82,1)"><use href="#eRB"/><text>149</text></g>
<g id="node-151" class="nd RM" transform="translate(1146.6,23) scale(.82,1)"><use href="#eRM"/><text>151</text></g>
<g id="node-152" class="nd RM" transform="translate(1218.3,35) scale(.82,1)"><use href="#eRM"/><text>152</text></g>
<g id="node-150" class="nd RM" transform="translate(1106.3,62.7) scale(.82,1)"><use href="#eRM"/><text>150</text></g>
<g id="node-126" class="nd RB" transform="translate(1062.8,201.3) scale(.82,1)"><use href="#eRB"/><text>126</text></g>
<g id="node-145" class="nd RB" transform="translate(1115.7,105.3) scale(.82,1)"><use href="#eRB"/><text>145</text></g>
<g id="node-146" class="nd RS" transform="translate(1148.6,126.7) scale(.82,1)"><use href="#eRS"/><text>146</text></g>
<g id="node-147" class="nd RS" transform="translate(1177.6,114.3) scale(.82,1)"><use href="#eRS"/><text>147</text></g>
<g id="node-148" class="nd RS" transform="translate(1208.1,104) scale(.82,1)"><use href="#eRS"/><text>148</text></g>
<g id="node-141" class="nd RB" transform="translate(1145.5,183) scale(.82,1)"><use href="#eRB"/><text>141</text></g>
<g id="node-143" class="nd RM" transform="translate(1186.2,161.3) scale(.82,1)"><use href="#eRM"/><text>143</text></g>
<g id="node-144" class="nd RM" transform="translate(1221.8,171.7) scale(.82,1)"><use href="#eRM"/><text>144</text></g>
<g id="node-142" class="nd RM" transform="translate(1212,198.7) scale(.82,1)"><use href="#eRM"/><text>142</text></g>
<g id="node-131" class="nd RB" transform="translate(1107.5,224) scale(.82,1)"><use href="#eRB"/><text>131</text></g>
<g id="node-132" class="nd RM" transform="translate(1126.7,270) scale(.82,1)"><use href="#eRM"/><text>132</text></g>
<g id="node-139" class="nd RM" transform="translate(1244.1,230) scale(.82,1)"><use href="#eRM"/><text>139</text></g>
<g id="node-140" class="nd RM" transform="translate(1275.5,239) scale(.82,1)"><use href="#eRM"/><text>140</text></g>
<g id="node-133" class="nd RM" transform="translate(1147,308.3) scale(.82,1)"><use href="#eRM"/><text>133</text></g>
<g id="node-134" class="nd RM" transform="translate(1168.6,276.7) scale(.82,1)"><use href="#eRM"/><text>134</text></g>
<g id="node-135" class="nd RM" transform="translate(1192,293.3) scale(.82,1)"><use href="#eRM"/><text>135</text></g>
<g id="node-136" class="nd RM" transform="translate(1214.8,316.7) scale(.82,1)"><use href="#eRM"/><text>136</text></g>
<g id="node-137" class="nd RM" transform="translate(1244.1,302) scale(.82,1)"><use href="#eRM"/><text>137</text></g>
<g id="node-138" class="nd RM" transform="translate(1275.5,292.7) scale(.82,1)"><use href="#eRM"/><text>138</text></g>
<g id="node-127" class="nd RB" transform="translate(1085.6,302.7) scale(.82,1)"><use href="#eRB"/><text>127</text></g>
<g id="node-128" class="nd RB" transform="translate(1123.5,381) scale(.82,1)"><use href="#eRB"/><text>128</text></g>
<g id="node-129" class="nd RM" transform="translate(1225.3,366) scale(.82,1)"><use href="#eRM"/><text>129</text></g>
<g id="node-130" class="nd RM" transform="translate(1260.6,374) scale(.82,1)"><use href="#eRM"/><text>130</text></g>
<g id="node-122" class="nd RB" transform="translate(1218.7,429.3) scale(.82,1)"><use href="#eRB"/><text>122</text></g>
<g id="node-124" class="nd RM" transform="translate(1269.6,415) scale(.82,1)"><use href="#eRM"/><text>124</text></g>
<g id="node-123" class="nd RM" transform="translate(1273.5,442.3) scale(.82,1)"><use href="#eRM"/><text>123</text></g>
<g id="node-121" class="nd RB" transform="translate(1147.4,466) scale(.82,1)"><use href="#eRB"/><text>121</text></g>
<g id="node-93" class="nd R2B" transform="translate(1081.6,538.3) scale(.82,1)"><use href="#eR2B"/><text>93</text></g>
<g id="node-94" class="nd R2B" transform="translate(1108.3,608.3) scale(.82,1)"><use href="#eR2B"/><text>94</text></g>
<g id="node-112" class="nd RB" transform="translate(1168.6,565) scale(.82,1)"><use href="#eRB"/><text>112</text></g>
<g id="node-115" class="nd RM" transform="translate(1185.4,526) scale(.82,1)"><use href="#eRM"/><text>115</text></g>
<g id="node-120" class="nd RS" transform="translate(1228.5,510) scale(.82,1)"><use href="#eRS"/><text>120</text></g>
<g id="node-116" class="nd RM" transform="translate(1207.7,545.7) scale(.82,1)"><use href="#eRM"/><text>116</text></g>
<g id="node-117" class="nd RM" transform="translate(1236.3,555) scale(.82,1)"><use href="#eRM"/><text>117</text></g>
<g id="node-118" class="nd RS" transform="translate(1259.8,574.3) scale(.82,1)"><use href="#eRS"/><text>118</text></g>
<g id="node-119" class="nd RS" transform="translate(1290,565) scale(.82,1)"><use href="#eRS"/><text>119</text></g>
<g id="node-113" class="nd RM" transform="translate(1215.9,610) scale(.82,1)"><use href="#eRM"/><text>113</text></g>
<g id="node-114" class="nd RM" transform="translate(1260.6,618.3) scale(.82,1)"><use href="#eRM"/><text>114</text></g>
<g id="node-102" class="nd RM" transform="translate(1142.3,635) scale(.82,1)"><use href="#eRM"/><text>102</text></g>
<g id="node-106" class="nd RM" transform="translate(1167,656.7) scale(.82,1)"><use href="#eRM"/><text>106</text></g>
<g id="node-111" class="nd RM" transform="translate(1268.4,660) scale(.82,1)"><use href="#eRM"/><text>111</text></g>
<g id="node-107" class="nd RM" transform="translate(1196.4,679) scale(.82,1)"><use href="#eRM"/><text>107</text></g>
<g id="node-108" class="nd RM" transform="translate(1232.4,699.3) scale(.82,1)"><use href="#eRM"/><text>108</text></g>
<g id="node-110" class="nd RM" transform="translate(1260.6,685) scale(.82,1)"><use href="#eRM"/><text>110</text></g>
<g id="node-109" class="nd RM" transform="translate(1281.3,713.3) scale(.82,1)"><use href="#eRM"/><text>109</text></g>
<g id="node-103" class="nd RM" transform="translate(1158.8,701.7) scale(.82,1)"><use href="#eRM"/><text>103</text></g>
<g id="node-104" class="nd RM" transform="translate(1169.7,744) scale(.82,1)"><use href="#eRM"/><text>104</text></g>
<g id="node-105" class="nd RM" transform="translate(1262.9,754.3) scale(.82,1)"><use href="#eRM"/><text>105</text></g>
<g id="node-95" class="nd R2B" transform="translate(1126.7,730) scale(.82,1)"><use href="#eR2B"/><text>95</text></g>
<g id="node-96" class="nd R2S" transform="translate(1145.5,820.7) scale(.82,1)"><use href="#eR2S"/><text>96</text></g>
<g id="node-99" class="nd R2S" transform="translate(1176.4,797.3) scale(.82,1)"><use href="#eR2S"/><text>99</text></g>
<g id="node-100" class="nd RM" transform="translate(1221.4,784) scale(.82,1)"><use href="#eRM"/><text>100</text></g>
<g id="node-101" class="nd RM" transform="translate(1261,794) scale(.82,1)"><use href="#eRM"/><text>101</text></g>
<g id="node-97" class="nd R2S" transform="translate(1165.8,843.3) scale(.82,1)"><use href="#eR2S"/><text>97</text></g>
<g id="node-98" class="nd R2S" transform="translate(1197.2,834) scale(.82,1)"><use href="#eR2S"/><text>98</text></g>
<g id="node-87" class="nd R2B" transform="translate(1010.4,722.7) scale(.82,1)"><use href="#eR2B"/><text>87</text></g>
<g id="node-88" class="nd R2B" transform="translate(1137.6,912.3) scale(.82,1)"><use href="#eR2B"/><text>88</text></g>
<g id="node-89" class="nd R2B" transform="translate(1175.6,885) scale(.82,1)"><use href="#eR2B"/><text>89</text></g>
<g id="node-90" class="nd R2S" transform="translate(1204.2,896.7) scale(.82,1)"><use href="#eR2S"/><text>90</text></g>
<g id="node-91" class="nd R2S" transform="translate(1233.2,911.7) scale(.82,1)"><use href="#eR2S"/><text>91</text></g>
<g id="node-92" class="nd R2S" transform="translate(1266.8,905) scale(.82,1)"><use href="#eR2S"/><text>92</text></g>
<g id="node-34" class="nd R2S" transform="translate(983.8,770) scale(.82,1)"><use href="#eR2S"/><text>34</text></g>
<g id="node-15" class="nd R2B" transform="translate(930.1,701.7) scale(.82,1)"><use href="#eR2B"/><text>15</text></g>
<g id="node-16" class="nd R2B" transform="translate(955.6,1277.7) scale(.82,1)"><use href="#eR2B"/><text>16</text></g>
<g id="node-7" class="nd R1" transform="translate(905.5,1323.3) scale(.82,1)"><use href="#eR1"/><text>7</text></g>
<g id="node-35" class="nd R2S" transform="translate(997.5,1108.3) scale(.82,1)"><use href="#eR2S"/><text>35</text></g>
<g id="node-36" class="nd R2S" transform="translate(1002.6,1496.7) scale(.82,1)"><use href="#eR2S"/><text>36</text></g>
<g id="node-42" class="nd R2S" transform="translate(1009.2,1388.3) scale(.82,1)"><use href="#eR2S"/><text>42</text></g>
<g id="node-45" class="nd R2S" transform="translate(1024.9,1231) scale(.82,1)"><use href="#eR2S"/><text>45</text></g>
<g id="node-59" class="nd R2B" transform="translate(1095.3,1010) scale(.82,1)"><use href="#eR2B"/><text>59</text></g>
<g id="node-60" class="nd R2B" transform="translate(1123.5,1076.7) scale(.82,1)"><use href="#eR2B"/><text>60</text></g>
<g id="node-83" class="nd R2B" transform="translate(1161.1,977.7) scale(.82,1)"><use href="#eR2B"/><text>83</text></g>
<g id="node-84" class="nd R2S" transform="translate(1200.3,986.7) scale(.82,1)"><use href="#eR2S"/><text>84</text></g>
<g id="node-85" class="nd R2S" transform="translate(1244.1,1005.5) scale(.82,1)"><use href="#eR2S"/><text>85</text></g>
<g id="node-86" class="nd R2S" transform="translate(1270.8,998.3) scale(.82,1)"><use href="#eR2S"/><text>86</text></g>
<g id="node-61" class="nd R2B" transform="translate(1147.4,1173.3) scale(.82,1)"><use href="#eR2B"/><text>61</text></g>
<g id="node-74" class="nd R2B" transform="translate(1182.7,1076) scale(.82,1)"><use href="#eR2B"/><text>74</text></g>
<g id="node-81" class="nd R2S" transform="translate(1228.5,1043.5) scale(.82,1)"><use href="#eR2S"/><text>81</text></g>
<g id="node-82" class="nd R2S" transform="translate(1267.6,1055) scale(.82,1)"><use href="#eR2S"/><text>82</text></g>
<g id="node-75" class="nd R2S" transform="translate(1209.7,1109.3) scale(.82,1)"><use href="#eR2S"/><text>75</text></g>
<g id="node-78" class="nd R2S" transform="translate(1227.3,1085) scale(.82,1)"><use href="#eR2S"/><text>78</text></g>
<g id="node-79" class="nd R2S" transform="translate(1257.1,1096) scale(.82,1)"><use href="#eR2S"/><text>79</text></g>
<g id="node-80" class="nd R2S" transform="translate(1284.5,1106) scale(.82,1)"><use href="#eR2S"/><text>80</text></g>
<g id="node-76" class="nd R2S" transform="translate(1228.5,1138.3) scale(.82,1)"><use href="#eR2S"/><text>76</text></g>
<g id="node-77" class="nd R2S" transform="translate(1265.7,1146.7) scale(.82,1)"><use href="#eR2S"/><text>77</text></g>
<g id="node-62" class="nd R2B" transform="translate(1159.2,1273.3) scale(.82,1)"><use href="#eR2B"/><text>62</text></g>
<g id="node-66" class="nd R2S" transform="translate(1176.4,1238.3) scale(.82,1)"><use href="#eR2S"/><text>66</text></g>
<g id="node-68" class="nd R2S" transform="translate(1193.2,1207.3) scale(.82,1)"><use href="#eR2S"/><text>68</text></g>
<g id="node-70" class="nd R2S" transform="translate(1205.8,1177.7) scale(.82,1)"><use href="#eR2S"/><text>70</text></g>
<g id="node-71" class="nd R2S" transform="translate(1237.1,1192.7) scale(.82,1)"><use href="#eR2S"/><text>71</text></g>
<g id="node-72" class="nd R2S" transform="translate(1261.8,1202.3) scale(.82,1)"><use href="#eR2S"/><text>72</text></g>
<g id="node-73" class="nd R2S" transform="translate(1284.1,1215) scale(.82,1)"><use href="#eR2S"/><text>73</text></g>
<g id="node-69" class="nd R2S" transform="translate(1239,1239.3) scale(.82,1)"><use href="#eR2S"/><text>69</text></g>
<g id="node-67" class="nd R2S" transform="translate(1235.1,1268.3) scale(.82,1)"><use href="#eR2S"/><text>67</text></g>
<g id="node-63" class="nd R2S" transform="translate(1219.5,1303.3) scale(.82,1)"><use href="#eR2S"/><text>63</text></g>
<g id="node-64" class="nd R2S" transform="translate(1244.1,1317.3) scale(.82,1)"><use href="#eR2S"/><text>64</text></g>
<g id="node-65" class="nd R2S" transform="translate(1281.3,1306.7) scale(.82,1)"><use href="#eR2S"/><text>65</text></g>
<g id="node-46" class="nd R2B" transform="translate(1091.4,1456.7) scale(.82,1)"><use href="#eR2B"/><text>46</text></g>
<g id="node-50" class="nd R2B" transform="translate(1108.3,1400) scale(.82,1)"><use href="#eR2B"/><text>50</text></g>
<g id="node-54" class="nd R2B" transform="translate(1153.3,1364) scale(.82,1)"><use href="#eR2B"/><text>54</text></g>
<g id="node-55" class="nd R2S" transform="translate(1180.7,1387.7) scale(.82,1)"><use href="#eR2S"/><text>55</text></g>
<g id="node-56" class="nd R2S" transform="translate(1217.5,1366.7) scale(.82,1)"><use href="#eR2S"/><text>56</text></g>
<g id="node-57" class="nd R2S" transform="translate(1244.9,1379.3) scale(.82,1)"><use href="#eR2S"/><text>57</text></g>
<g id="node-58" class="nd R2S" transform="translate(1278.2,1387.7) scale(.82,1)"><use href="#eR2S"/><text>58</text></g>
<g id="node-51" class="nd R2S" transform="translate(1127.8,1436.7) scale(.82,1)"><use href="#eR2S"/><text>51</text></g>
<g id="node-52" class="nd R2S" transform="translate(1186.2,1447.3) scale(.82,1)"><use href="#eR2S"/><text>52</text></g>
<g id="node-53" class="nd R2S" transform="translate(1226.5,1459) scale(.82,1)"><use href="#eR2S"/><text>53</text></g>
<g id="node-47" class="nd R2B" transform="translate(1191.3,1508.3) scale(.82,1)"><use href="#eR2B"/><text>47</text></g>
<g id="node-48" class="nd R2S" transform="translate(1221.8,1493.3) scale(.82,1)"><use href="#eR2S"/><text>48</text></g>
<g id="node-49" class="nd R2S" transform="translate(1258.6,1482.3) scale(.82,1)"><use href="#eR2S"/><text>49</text></g>
<g id="node-43" class="nd R2S" transform="translate(1098.5,1541.7) scale(.82,1)"><use href="#eR2S"/><text>43</text></g>
<g id="node-44" class="nd R2S" transform="translate(1183.4,1552.3) scale(.82,1)"><use href="#eR2S"/><text>44</text></g>
<g id="node-37" class="nd R2B" transform="translate(1056.2,1596.7) scale(.82,1)"><use href="#eR2B"/><text>37</text></g>
<g id="node-41" class="nd R2S" transform="translate(1176.4,1578.3) scale(.82,1)"><use href="#eR2S"/><text>41</text></g>
<g id="node-38" class="nd R2B" transform="translate(1156.8,1616.7) scale(.82,1)"><use href="#eR2B"/><text>38</text></g>
<g id="node-40" class="nd R2S" transform="translate(1273.5,1605) scale(.82,1)"><use href="#eR2S"/><text>40</text></g>
<g id="node-39" class="nd R2S" transform="translate(1269.6,1632.3) scale(.82,1)"><use href="#eR2S"/><text>39</text></g>
<g id="node-33" class="nd R2S" transform="translate(1280.2,1660) scale(.82,1)"><use href="#eR2S"/><text>33</text></g>
<g id="node-31" class="nd R2S" transform="translate(1206.9,1674.5) scale(.82,1)"><use href="#eR2S"/><text>31</text></g>
<g id="node-32" class="nd R2S" transform="translate(1275.5,1690) scale(.82,1)"><use href="#eR2S"/><text>32</text></g>
<g id="node-28" class="nd R2B" transform="translate(1162.7,1699.3) scale(.82,1)"><use href="#eR2B"/><text>28</text></g>
<g id="node-29" class="nd R2S" transform="translate(1194,1725.7) scale(.82,1)"><use href="#eR2S"/><text>29</text></g>
<g id="node-30" class="nd R2S" transform="translate(1266.8,1716.7) scale(.82,1)"><use href="#eR2S"/><text>30</text></g>
<g id="node-27" class="nd R2B" transform="translate(1010,1723.3) scale(.82,1)"><use href="#eR2B"/><text>27</text></g>
<g id="node-17" class="nd R2B" transform="translate(982.6,1792.3) scale(.82,1)"><use href="#eR2B"/><text>17</text></g>
<g id="node-18" class="nd R2B" transform="translate(1015.1,1860) scale(.82,1)"><use href="#eR2B"/><text>18</text></g>
<g id="node-20" class="nd R2B" transform="translate(1072.6,1837.3) scale(.82,1)"><use href="#eR2B"/><text>20</text></g>
<g id="node-21" class="nd R2B" transform="translate(1111,1816.7) scale(.82,1)"><use href="#eR2B"/><text>21</text></g>
<g id="node-22" class="nd R2B" transform="translate(1150.2,1788.3) scale(.82,1)"><use href="#eR2B"/><text>22</text></g>
<g id="node-26" class="nd R2S" transform="translate(1185.4,1770) scale(.82,1)"><use href="#eR2S"/><text>26</text></g>
<g id="node-23" class="nd R2S" transform="translate(1196,1805.7) scale(.82,1)"><use href="#eR2S"/><text>23</text></g>
<g id="node-24" class="nd R2S" transform="translate(1235.1,1820) scale(.82,1)"><use href="#eR2S"/><text>24</text></g>
<g id="node-25" class="nd R2S" transform="translate(1278.2,1810.7) scale(.82,1)"><use href="#eR2S"/><text>25</text></g>
<g id="node-19" class="nd R2S" transform="translate(1176.4,1880) scale(.82,1)"><use href="#eR2S"/><text>19</text></g>
<g id="node-12" class="nd R2B" transform="translate(1056.2,1910.7) scale(.82,1)"><use href="#eR2B"/><text>12</text></g>
<g id="node-13" class="nd R2S" transform="translate(1160,1919) scale(.82,1)"><use href="#eR2S"/><text>13</text></g>
<g id="node-14" class="nd R2S" transform="translate(1219.9,1934.3) scale(.82,1)"><use href="#eR2S"/><text>14</text></g>
<g id="node-8" class="nd R1" transform="translate(936,1940.7) scale(.82,1)"><use href="#eR1"/><text>8</text></g>
<g id="node-9" class="nd R1" transform="translate(950.5,1978.3) scale(.82,1)"><use href="#eR1"/><text>9</text></g>
<g id="node-10" class="nd R2B" transform="translate(997.5,1970) scale(.82,1)"><use href="#eR2B"/><text>10</text></g>
<g id="node-11" class="nd R2S" transform="translate(1142.3,1959) scale(.82,1)"><use href="#eR2S"/><text>11</text></g>
</g>
</svg>
